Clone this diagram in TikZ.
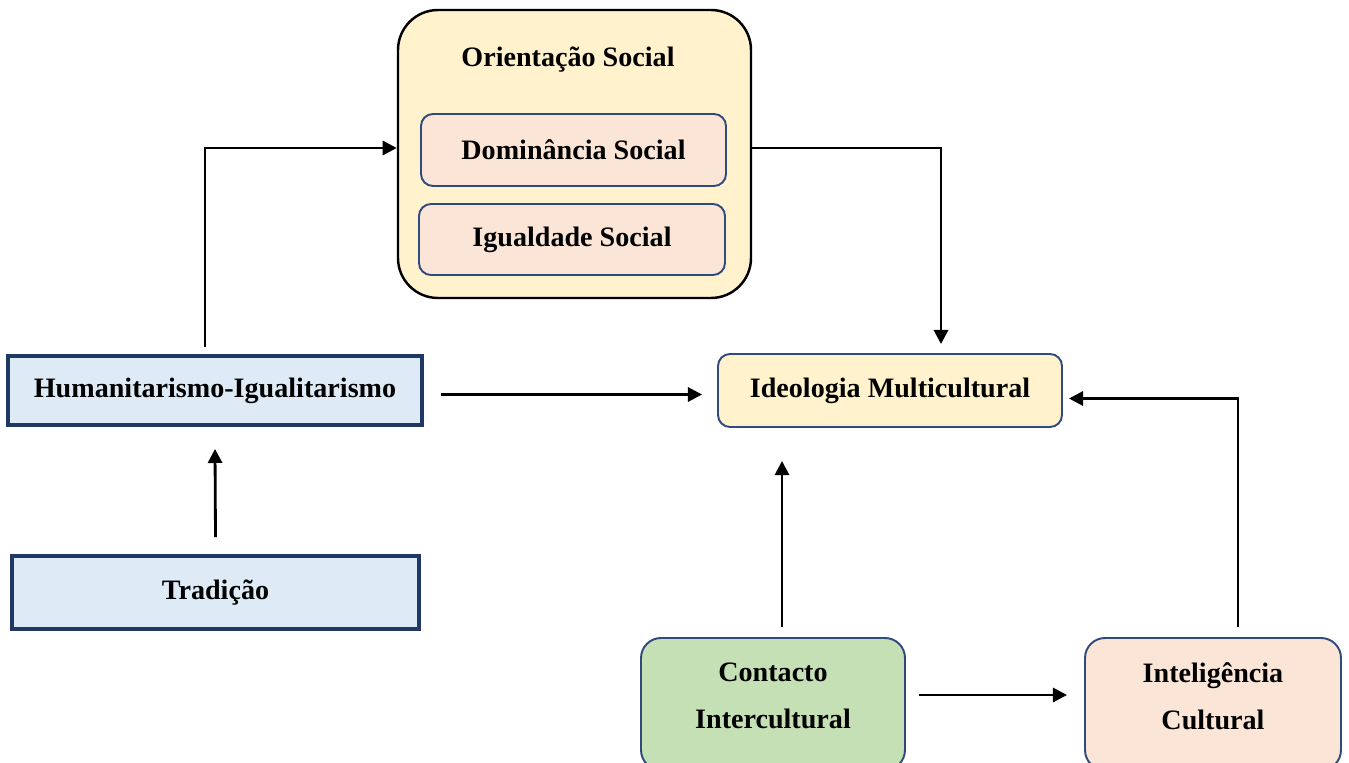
\documentclass[tikz,border=0pt]{standalone}
\usepackage{fontspec}
\setmainfont{Liberation Serif}
\usetikzlibrary{calc,positioning,arrows.meta}
\definecolor{yellowfill}{HTML}{FFF2CC}
\definecolor{peachfill}{HTML}{FBE5D6}
\definecolor{bluefill}{HTML}{DEEBF7}
\definecolor{greenfill}{HTML}{C5E0B4}
\definecolor{navyline}{HTML}{2F4A7D}
\definecolor{darknavy}{HTML}{203864}
\tikzset{
	every node/.style={font=\fontsize{16}{27}\selectfont\bfseries},
	outerbox/.style={draw=black,line width=1.4pt,fill=yellowfill,rounded corners=0.8cm,inner sep=0pt},
	softbox/.style={draw=navyline,line width=1.1pt,rounded corners=0.24cm,inner sep=0pt},
	flatbox/.style={draw=darknavy,line width=2.2pt,fill=bluefill,inner sep=0pt},
	arr/.style={line width=1.6pt,-{Triangle[length=8pt,width=8pt]}}
}
\begin{document}
\begin{tikzpicture}[x=0.02cm,y=0.02cm]
	\useasboundingbox (0,0) rectangle (1349,762);
	\node[outerbox,minimum width=353*0.02cm,minimum height=288*0.02cm] (orient) at (574.5,608) {};
	\node (orienttitle) at (568,702) {Orientação Social};
	\node[softbox,fill=peachfill,minimum width=305*0.02cm,minimum height=72*0.02cm] (dom) at (573.5,612) {Dominância Social};
	\node[softbox,fill=peachfill,minimum width=306*0.02cm,minimum height=71*0.02cm] (igual) at (572,522.5) {Igualdade Social};
	\node[flatbox,minimum width=414*0.02cm,minimum height=69*0.02cm] (human) at (215,371.5) {Humanitarismo-Igualitarismo};
	\node[flatbox,minimum width=407*0.02cm,minimum height=73*0.02cm] (trad) at (215.5,169.5) {Tradição};
	\node[softbox,fill=yellowfill,minimum width=344*0.02cm,minimum height=73*0.02cm] (ideo) at (890,371.5) {Ideologia Multicultural};
	\node[softbox,fill=greenfill,rounded corners=0.4cm,minimum width=264*0.02cm,minimum height=132*0.02cm] (contacto) at (773,58) {};
	\node[align=center] (contactotxt) at (773,66) {Contacto\\Intercultural};
	\node[softbox,fill=peachfill,rounded corners=0.4cm,minimum width=256*0.02cm,minimum height=132*0.02cm] (intel) at (1213,58) {};
	\node[align=center] (inteltxt) at (1213,66) {Inteligência\\Cultural};

	\draw[arr] ($(human.north)+(-10,7)$) |- ($(orient.west)+(0,6)$);
	\draw[arr] ($(orient.east)+(0,6)$) -| ($(ideo.north)+(51,9)$);
	\draw[arr] ($(human.east)+(17,-4)$) -- ($(ideo.west)+(-15,-4)$);
	\draw[arr] ($(trad.north)+(0,17)$) -- ($(human.south)+(0,-22)$);
	\draw[arr] ($(contacto.north)+(9,10)$) -- ($(ideo.south)+(-108,-33)$);
	\draw[arr] ($(contacto.east)+(13,9)$) -- ($(intel.west)+(-17,9)$);
	\draw[arr] ($(intel.north)+(25,10)$) |- ($(ideo.east)+(6,-8)$);
\end{tikzpicture}
\end{document}
